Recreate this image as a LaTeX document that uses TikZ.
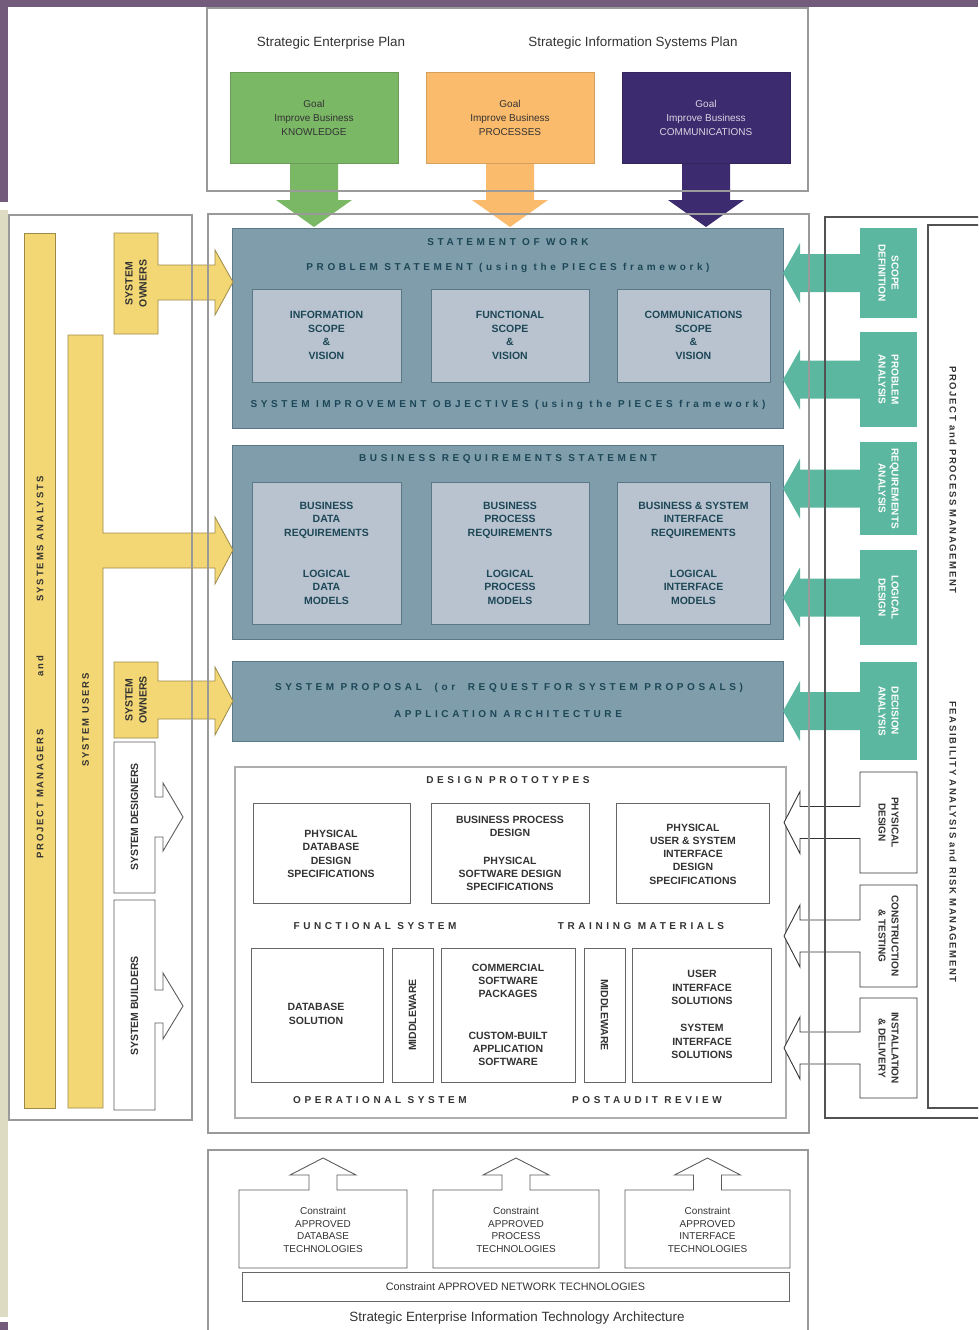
\documentclass[tikz,border=0pt]{standalone}
\usepackage{fontspec}
\setmainfont{Liberation Sans}
\newfontfamily\headfont[LetterSpace=36]{Liberation Sans}
\newfontfamily\rolefont[LetterSpace=20]{Liberation Sans}
\newfontfamily\mgmtfont[LetterSpace=17]{Liberation Sans}
\usetikzlibrary{positioning,fit,calc}

\definecolor{frameviolet}{HTML}{735B7B}
\definecolor{stripbeige}{HTML}{DEDBC3}
\definecolor{goalgreen}{HTML}{7BB866}
\definecolor{goalorange}{HTML}{FBBB6C}
\definecolor{goalpurple}{HTML}{3D2B6F}
\definecolor{roleyellow}{HTML}{F3D774}
\definecolor{roleedge}{HTML}{9C8A48}
\definecolor{slate}{HTML}{7F9DAB}
\definecolor{slateedge}{HTML}{5B7886}
\definecolor{slatein}{HTML}{B9C3CF}
\definecolor{slatetext}{HTML}{1D4757}
\definecolor{phaseteal}{HTML}{5BB79F}
\definecolor{rulegrey}{HTML}{9A9A9A}
\definecolor{inkgrey}{HTML}{333333}

\begin{document}
\begin{tikzpicture}[x=1pt,y=-1pt,
  every node/.style={inner sep=0pt},
  frame/.style={draw=rulegrey,line width=1.3pt},
  panel/.style={draw=inkgrey!85,line width=1.1pt},
  slatebox/.style={draw=slateedge,fill=slate,line width=1pt},
  slatecell/.style={draw=slateedge,fill=slatein,line width=1pt},
  cell/.style={draw=inkgrey!75,line width=0.9pt},
  outl/.style={draw=inkgrey,fill=white,line width=0.9pt},
  yel/.style={draw=roleedge,fill=roleyellow,line width=0.8pt},
  caption/.style={font=\fontsize{13.4}{15}\selectfont,text=inkgrey},
  goaltxt/.style={font=\fontsize{10}{14}\selectfont,align=center},
  heading/.style={font=\headfont\bfseries\fontsize{10}{11}\selectfont,text=slatetext},
  protohead/.style={heading,text=inkgrey},
  slatetxt/.style={font=\bfseries\fontsize{10.5}{13.5}\selectfont,align=center,text=slatetext},
  celltxt/.style={font=\bfseries\fontsize{10.5}{13.3}\selectfont,align=center,text=inkgrey},
  roletxt/.style={font=\rolefont\bfseries\fontsize{9.5}{11}\selectfont,text=inkgrey,rotate=90},
  ownertxt/.style={font=\bfseries\fontsize{10.5}{14}\selectfont,align=center,text=inkgrey,rotate=90},
  phasetxt/.style={font=\bfseries\fontsize{10}{13}\selectfont,align=center,text=white,rotate=-90},
  steptxt/.style={phasetxt,text=inkgrey},
  mgmttxt/.style={font=\mgmtfont\bfseries\fontsize{9.5}{11}\selectfont,text=inkgrey,rotate=-90},
  techtxt/.style={font=\fontsize{10}{12.6}\selectfont,align=center,text=inkgrey}]
\useasboundingbox (0,0) rectangle (978,1330);
\clip (0,0) rectangle (978,1330);
% page edge
\fill[frameviolet] (0,0) rectangle (978,7);
\fill[frameviolet] (0,0) rectangle (8,202);
\fill[stripbeige] (0,210) rectangle (8,1317);
\fill[frameviolet] (0,1322) rectangle (8,1330);

% strategic plans
\node[caption] (entplan) at (331,43) {Strategic Enterprise Plan};
\node[caption] (isplan) at (633,43) {Strategic Information Systems Plan};
\foreach \nm/\xa/\col/\ink/\what in {know/230/goalgreen/inkgrey/KNOWLEDGE,proc/426/goalorange/inkgrey/PROCESSES,comm/622/goalpurple/white!80!goalpurple/COMMUNICATIONS}{
  \pgfmathsetmacro\xc{\xa+84}
  \fill[\col] (\xc-24,160) -- (\xc+24,160) -- (\xc+24,200) -- (\xc+38,200) -- (\xc,227) -- (\xc-38,200) -- (\xc-24,200) -- cycle;
  \node[fill=\col,draw=\col!85!black,line width=0.6pt,fit={(\xa,72)(\xa+168,163)}] (\nm) {};
  \node[goaltxt,text=\ink] (\nm-t) at (\nm) {Goal\\Improve Business\\\what};
}

% analysis deliverables
\node[slatebox,fit={(232,228)(783,428)}] (sow) {};
\node[slatebox,fit={(232,445)(783,639)}] (brs) {};
\node[slatebox,fit={(232,661)(783,741)}] (prop) {};
\node[heading] (sow-h) at (508,242) {STATEMENT OF WORK};
\node[heading] (prob-h) at (508,268) {PROBLEM STATEMENT (using the PIECES framework)};
\node[heading] (obj-h) at (508,405) {SYSTEM IMPROVEMENT OBJECTIVES (using the PIECES framework)};
\node[heading] (brs-h) at (508,459) {BUSINESS REQUIREMENTS STATEMENT};
\node[heading] (prop-h) at (509,688) {SYSTEM PROPOSAL\ \ (or\ \ REQUEST FOR SYSTEM PROPOSALS)};
\node[heading] (arch-h) at (508,714) {APPLICATION ARCHITECTURE};
\foreach \nm/\xa/\xb/\txt in {infos/252/401/{INFORMATION\\SCOPE\\\&\\VISION},funcs/431/589/{FUNCTIONAL\\SCOPE\\\&\\VISION},comms/617/770/{COMMUNICATIONS\\SCOPE\\\&\\VISION}}{
  \node[slatecell,fit={(\xa,289)(\xb,382)}] (\nm) {};
  \node[slatetxt] (\nm-t) at (\nm) {\txt};
}
\foreach \nm/\xa/\xb/\up/\lo in {bdata/252/401/{BUSINESS\\DATA\\REQUIREMENTS}/{LOGICAL\\DATA\\MODELS},bproc/431/589/{BUSINESS\\PROCESS\\REQUIREMENTS}/{LOGICAL\\PROCESS\\MODELS},bifc/617/770/{BUSINESS \& SYSTEM\\INTERFACE\\REQUIREMENTS}/{LOGICAL\\INTERFACE\\MODELS}}{
  \node[slatecell,fit={(\xa,482)(\xb,624)}] (\nm) {};
  \node[slatetxt] (\nm-a) at ($(\nm.north)+(0,38.5)$) {\up};
  \node[slatetxt] (\nm-b) at ($(\nm.north)+(0,105.5)$) {\lo};
}

% design and construction deliverables
\node[draw=rulegrey!80,line width=1.2pt,fit={(235,767)(786,1118)}] (proto) {};
\node[protohead] (proto-h) at (508,780) {DESIGN PROTOTYPES};
\node[cell,fit={(253,803)(410,903)}] (pdb) {};
\node[cell,fit={(431,803)(589,903)}] (psw) {};
\node[cell,fit={(616,803)(769,903)}] (pui) {};
\node[celltxt] (pdb-t) at (331,854) {PHYSICAL\\DATABASE\\DESIGN\\SPECIFICATIONS};
\node[celltxt] (psw-a) at (510,826.5) {BUSINESS PROCESS\\DESIGN};
\node[celltxt] (psw-b) at (510,874) {PHYSICAL\\SOFTWARE DESIGN\\SPECIFICATIONS};
\node[celltxt] (pui-t) at (693,854) {PHYSICAL\\USER \& SYSTEM\\INTERFACE\\DESIGN\\SPECIFICATIONS};
\node[protohead] (func-h) at (375,926) {FUNCTIONAL SYSTEM};
\node[protohead] (train-h) at (641,926) {TRAINING MATERIALS};
\node[cell,fit={(251,948)(383,1082)}] (dbsol) {};
\node[cell,fit={(392,948)(433,1082)}] (mwa) {};
\node[cell,fit={(441,948)(575,1082)}] (cots) {};
\node[cell,fit={(584,948)(625,1082)}] (mwb) {};
\node[cell,fit={(632,948)(771,1082)}] (uis) {};
\node[celltxt] (dbsol-t) at (316,1014) {DATABASE\\SOLUTION};
\node[celltxt,rotate=90] (mwa-t) at (mwa) {MIDDLEWARE};
\node[celltxt] (cots-a) at (508,981) {COMMERCIAL\\SOFTWARE\\PACKAGES};
\node[celltxt] (cots-b) at (508,1049) {CUSTOM-BUILT\\APPLICATION\\SOFTWARE};
\node[celltxt,rotate=-90] (mwb-t) at (mwb) {MIDDLEWARE};
\node[celltxt] (uis-a) at (702,987.5) {USER\\INTERFACE\\SOLUTIONS};
\node[celltxt] (uis-b) at (702,1041.5) {SYSTEM\\INTERFACE\\SOLUTIONS};
\node[protohead] (oper-h) at (380,1100) {OPERATIONAL SYSTEM};
\node[protohead] (audit-h) at (647,1100) {POSTAUDIT REVIEW};

% stakeholders
\node[yel,fit={(24,233)(55,1108)}] (pmbar) {};
\node[roletxt] (sa-t) at (40,539) {SYSTEMS ANALYSTS};
\node[roletxt] (and-t) at (40,666) {and};
\node[roletxt] (pm-t) at (40,794) {PROJECT MANAGERS};
\draw[yel] (68,335) -- (103,335) -- (103,533) -- (215,533) -- (215,517) -- (233,550) -- (215,584) -- (215,568) -- (103,568) -- (103,1108) -- (68,1108) -- cycle;
\node[roletxt] (users-t) at (85.5,720) {SYSTEM USERS};
\draw[yel] (114,233) -- (158,233) -- (158,265) -- (215,265) -- (215,250) -- (233,282) -- (215,315) -- (215,300) -- (158,300) -- (158,334) -- (114,334) -- cycle;
\node[ownertxt] (owna-t) at (136,283.5) {SYSTEM\\OWNERS};
\draw[yel] (114,662) -- (158,662) -- (158,681) -- (215,681) -- (215,667) -- (233,701) -- (215,735) -- (215,719) -- (158,719) -- (158,738) -- (114,738) -- cycle;
\node[ownertxt] (ownb-t) at (136,700) {SYSTEM\\OWNERS};
\draw[outl,draw=inkgrey!80] (114,742) -- (155,742) -- (155,797) -- (163,797) -- (163,783) -- (183,817) -- (163,851) -- (163,837) -- (155,837) -- (155,893) -- (114,893) -- cycle;
\node[ownertxt] (des-t) at (134.5,817) {SYSTEM DESIGNERS};
\draw[outl,draw=inkgrey!80] (114,900) -- (155,900) -- (155,990) -- (163,990) -- (163,973) -- (183,1006) -- (163,1039) -- (163,1023) -- (155,1023) -- (155,1110) -- (114,1110) -- cycle;
\node[ownertxt] (bld-t) at (134.5,1006) {SYSTEM BUILDERS};

% phases
\foreach \nm/\ya/\yb/\txt in {scopedef/228/318/{SCOPE\\DEFINITION},probana/332/427/{PROBLEM\\ANALYSIS},reqana/442/535/{REQUIREMENTS\\ANALYSIS},logdes/550/645/{LOGICAL\\DESIGN},decana/662/760/{DECISION\\ANALYSIS}}{
  \pgfmathsetmacro\yc{(\ya+\yb)/2}
  \fill[phaseteal] (861,\yc-19) -- (800,\yc-19) -- (800,\yc-30) -- (783,\yc) -- (800,\yc+30) -- (800,\yc+19) -- (861,\yc+19) -- cycle;
  \node[fill=phaseteal,fit={(860,\ya)(917,\yb)}] (\nm) {};
  \node[phasetxt] (\nm-t) at (\nm) {\txt};
}
\foreach \nm/\ya/\yb/\txt in {physdes/772/873/{PHYSICAL\\DESIGN},constr/885/987/{CONSTRUCTION\\\& TESTING},install/998/1098/{INSTALLATION\\\& DELIVERY}}{
  \pgfmathsetmacro\yc{(\ya+\yb)/2}
  \draw[outl] (917,\ya) -- (860,\ya) -- (860,\yc-16) -- (800,\yc-16) -- (800,\yc-31) -- (784,\yc) -- (800,\yc+31) -- (800,\yc+16) -- (860,\yc+16) -- (860,\yb) -- (917,\yb) -- cycle;
  \node[steptxt] (\nm) at (888.5,\yc) {\txt};
}
\node[panel,fit={(928,225)(995,1108)}] (mgmt) {};
\node[mgmttxt] (ppm-t) at (953,480) {PROJECT and PROCESS MANAGEMENT};
\node[mgmttxt] (risk-t) at (953,842) {FEASIBILITY ANALYSIS and RISK MANAGEMENT};

% technology constraints
\foreach \nm/\xa/\xb/\what in {dbtech/239/407/DATABASE,proctech/433/599/PROCESS,ifctech/625/790/INTERFACE}{
  \pgfmathsetmacro\xc{(\xa+\xb)/2}
  \draw[outl,draw=inkgrey!80] (\xa,1190) -- (\xc-14,1190) -- (\xc-14,1175) -- (\xc-33,1175) -- (\xc,1158) -- (\xc+33,1175) -- (\xc+14,1175) -- (\xc+14,1190) -- (\xb,1190) -- (\xb,1268) -- (\xa,1268) -- cycle;
  \node[techtxt] (\nm) at (\xc,1230) {Constraint\\APPROVED\\\what\\TECHNOLOGIES};
}
\node[cell,fit={(242,1272)(789,1301)}] (nettech) {};
\node[techtxt,font=\fontsize{10.8}{12}\selectfont] (nettech-t) at (nettech) {Constraint APPROVED NETWORK TECHNOLOGIES};
\node[caption] (itarch-t) at (517,1318) {Strategic Enterprise Information Technology Architecture};

% frames on top
\node[frame,fit={(207,8)(808,191)}] (plans) {};
\node[frame,fit={(208,214)(809,1133)}] (center) {};
\node[frame,fit={(9,215)(192,1120)}] (lpanel) {};
\node[panel,fit={(825,217)(995,1118)}] (rpanel) {};
\node[frame,fit={(208,1150)(808,1345)}] (itarch) {};
\end{tikzpicture}
\end{document}
